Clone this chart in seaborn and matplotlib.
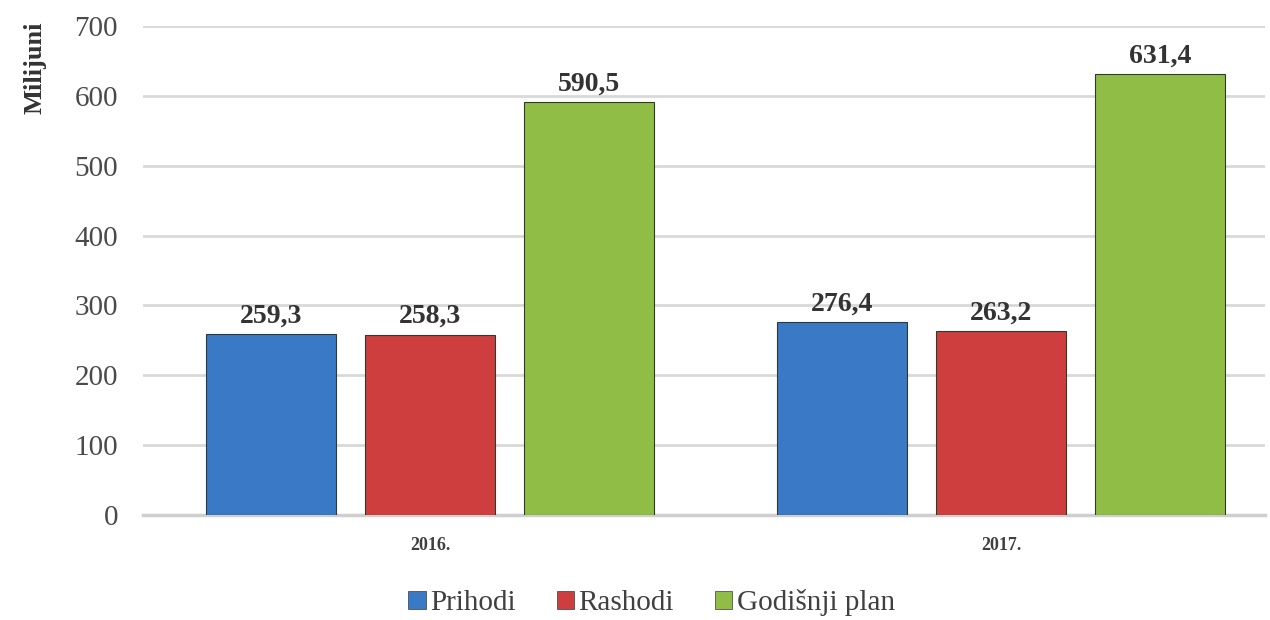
import matplotlib
matplotlib.use("Agg")
import matplotlib.pyplot as plt
import pandas as pd
import seaborn as sns
from matplotlib.patches import Patch

years = ["2016.", "2017."]
series = ["Prihodi", "Rashodi", "Godišnji plan"]
prihodi = [259.3, 276.4]
rashodi = [258.3, 263.2]
plan = [590.5, 631.4]
colors = ["#3A79C6", "#CF3E3E", "#90BD45"]

rows = []
for name, vals in zip(series, [prihodi, rashodi, plan]):
    for y, v in zip(years, vals):
        rows.append({"Year": y, "Series": name, "Value": v})
df = pd.DataFrame(rows)

sns.set_style("white")
plt.rcParams['font.family'] = ['Liberation Serif', 'DejaVu Serif']

fig = plt.figure(figsize=(12.7, 6.2), dpi=100)
ax = fig.add_axes([143 / 1270, 1 - 515 / 620, (1265 - 143) / 1270, (515 - 26) / 620])

sns.barplot(data=df, x="Year", y="Value", hue="Series", palette=colors,
            saturation=1, width=0.835, gap=0.18, ax=ax, legend=False, zorder=3,
            edgecolor="#2f3a2f", linewidth=0.8)

for cont in ax.containers:
    labels = [f"{b.get_height():.1f}".replace(".", ",") for b in cont]
    ax.bar_label(cont, labels=labels, padding=4, fontsize=20, fontweight="bold",
                 color="#333333")

ax.set_ylim(0, 700)
ax.set_yticks(range(0, 701, 100))
ax.set_xlim(-0.503, 1.462)
ax.yaxis.grid(True, color="#d9d9d9", linewidth=2, zorder=0)
ax.set_axisbelow(True)
for s in ["top", "right", "left"]:
    ax.spines[s].set_visible(False)
ax.spines["bottom"].set_color("#cfcfcf")
ax.spines["bottom"].set_linewidth(2.5)
ax.tick_params(axis="y", length=0, pad=18, labelsize=21, labelcolor="#4a4a4a")
ax.tick_params(axis="x", length=0, pad=16, labelsize=13, labelcolor="#404040")
for t in ax.get_xticklabels():
    t.set_fontweight("bold")
ax.set_xlabel("")
ax.set_ylabel("")

fig.text(35 / 1270, 1 - 68 / 620, "Milijuni", rotation=90, ha="center", va="center",
         fontsize=19, fontweight="bold", color="#333333")

handles = [Patch(facecolor=c, edgecolor="#3a3a3a", linewidth=0.5) for c in colors]
fig.legend(handles, series, loc="center", bbox_to_anchor=(0.513, 1 - 603 / 620), ncol=3,
           frameon=False, fontsize=21, handlelength=0.6, handleheight=0.6,
           handletextpad=0.15, columnspacing=1.4, labelcolor="#404040")

fig.savefig("out.png", dpi=100)
